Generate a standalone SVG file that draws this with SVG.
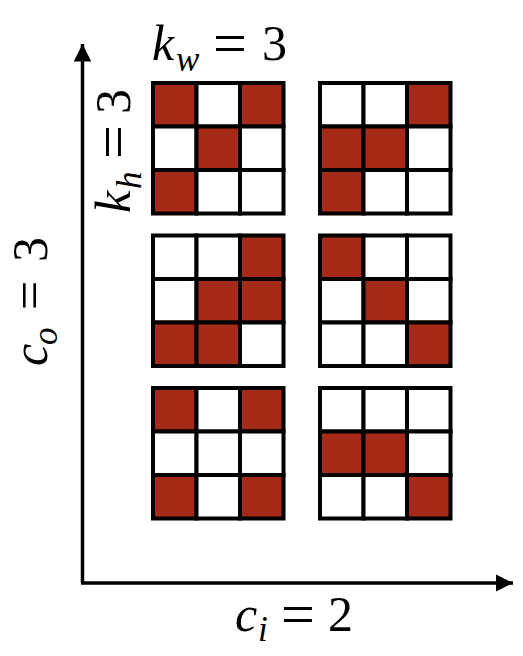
<svg xmlns="http://www.w3.org/2000/svg" width="523" height="656" viewBox="0 0 523 656">
<style>
.c{stroke:#000;stroke-width:4}
.r{fill:#a52a18}
.w{fill:#fff}
.ax{stroke:#000;stroke-width:3.5;fill:none}
text{fill:#000;font-family:'Liberation Serif','DejaVu Serif',serif;font-size:50px}
.it{font-style:italic}
.sub{font-style:italic;font-size:35px}
.eq{font-size:60px}
</style>
<defs>
<marker id="ah" viewBox="0 0 10 10" refX="10" refY="5" markerWidth="5" markerHeight="5" markerUnits="strokeWidth" orient="auto">
<path d="M0,0 L10,5 L0,10 z" fill="#000"/>
</marker>
</defs>
<rect width="523" height="656" fill="#fff"/>
<g id="connectors">
<line class="ax" x1="82.5" y1="583" x2="82.5" y2="44" marker-end="url(#ah)"/>
<line class="ax" x1="81" y1="583" x2="513" y2="583" marker-end="url(#ah)"/>
</g>
<g id="grid-1-1" class="c">
<rect class="r" x="153" y="83" width="43.5" height="43.5"/><rect class="w" x="196.5" y="83" width="43.5" height="43.5"/><rect class="r" x="240" y="83" width="43.5" height="43.5"/>
<rect class="w" x="153" y="126.5" width="43.5" height="43.5"/><rect class="r" x="196.5" y="126.5" width="43.5" height="43.5"/><rect class="w" x="240" y="126.5" width="43.5" height="43.5"/>
<rect class="r" x="153" y="170" width="43.5" height="43.5"/><rect class="w" x="196.5" y="170" width="43.5" height="43.5"/><rect class="w" x="240" y="170" width="43.5" height="43.5"/>
</g>
<g id="grid-1-2" class="c">
<rect class="w" x="320" y="83" width="43.5" height="43.5"/><rect class="w" x="363.5" y="83" width="43.5" height="43.5"/><rect class="r" x="407" y="83" width="43.5" height="43.5"/>
<rect class="r" x="320" y="126.5" width="43.5" height="43.5"/><rect class="r" x="363.5" y="126.5" width="43.5" height="43.5"/><rect class="w" x="407" y="126.5" width="43.5" height="43.5"/>
<rect class="r" x="320" y="170" width="43.5" height="43.5"/><rect class="w" x="363.5" y="170" width="43.5" height="43.5"/><rect class="w" x="407" y="170" width="43.5" height="43.5"/>
</g>
<g id="grid-2-1" class="c">
<rect class="w" x="153" y="235.5" width="43.5" height="43.5"/><rect class="w" x="196.5" y="235.5" width="43.5" height="43.5"/><rect class="r" x="240" y="235.5" width="43.5" height="43.5"/>
<rect class="w" x="153" y="279" width="43.5" height="43.5"/><rect class="r" x="196.5" y="279" width="43.5" height="43.5"/><rect class="r" x="240" y="279" width="43.5" height="43.5"/>
<rect class="r" x="153" y="322.5" width="43.5" height="43.5"/><rect class="r" x="196.5" y="322.5" width="43.5" height="43.5"/><rect class="w" x="240" y="322.5" width="43.5" height="43.5"/>
</g>
<g id="grid-2-2" class="c">
<rect class="r" x="320" y="235.5" width="43.5" height="43.5"/><rect class="w" x="363.5" y="235.5" width="43.5" height="43.5"/><rect class="w" x="407" y="235.5" width="43.5" height="43.5"/>
<rect class="w" x="320" y="279" width="43.5" height="43.5"/><rect class="r" x="363.5" y="279" width="43.5" height="43.5"/><rect class="w" x="407" y="279" width="43.5" height="43.5"/>
<rect class="w" x="320" y="322.5" width="43.5" height="43.5"/><rect class="w" x="363.5" y="322.5" width="43.5" height="43.5"/><rect class="r" x="407" y="322.5" width="43.5" height="43.5"/>
</g>
<g id="grid-3-1" class="c">
<rect class="r" x="153" y="388" width="43.5" height="43.5"/><rect class="w" x="196.5" y="388" width="43.5" height="43.5"/><rect class="r" x="240" y="388" width="43.5" height="43.5"/>
<rect class="w" x="153" y="431.5" width="43.5" height="43.5"/><rect class="w" x="196.5" y="431.5" width="43.5" height="43.5"/><rect class="w" x="240" y="431.5" width="43.5" height="43.5"/>
<rect class="r" x="153" y="475" width="43.5" height="43.5"/><rect class="w" x="196.5" y="475" width="43.5" height="43.5"/><rect class="r" x="240" y="475" width="43.5" height="43.5"/>
</g>
<g id="grid-3-2" class="c">
<rect class="w" x="320" y="388" width="43.5" height="43.5"/><rect class="w" x="363.5" y="388" width="43.5" height="43.5"/><rect class="w" x="407" y="388" width="43.5" height="43.5"/>
<rect class="r" x="320" y="431.5" width="43.5" height="43.5"/><rect class="r" x="363.5" y="431.5" width="43.5" height="43.5"/><rect class="w" x="407" y="431.5" width="43.5" height="43.5"/>
<rect class="w" x="320" y="475" width="43.5" height="43.5"/><rect class="w" x="363.5" y="475" width="43.5" height="43.5"/><rect class="r" x="407" y="475" width="43.5" height="43.5"/>
</g>
<g id="label-kw">
<text y="60"><tspan class="it" x="152">k</tspan><tspan class="sub" x="176" dy="11">w</tspan><tspan class="eq" x="213" dy="-8">=</tspan><tspan x="262" dy="-3">3</tspan></text>
</g>
<g id="label-kh">
<text transform="translate(130,213) rotate(-90)"><tspan class="it" x="0">k</tspan><tspan class="sub" x="24" dy="11">h</tspan><tspan class="eq" x="54" dy="-8">=</tspan><tspan x="99" dy="-3">3</tspan></text>
</g>
<g id="label-co">
<text transform="translate(47,366) rotate(-90)"><tspan class="it" x="0">c</tspan><tspan class="sub" x="21" dy="10">o</tspan><tspan x="56" dy="-10" font-size="52">=</tspan><tspan x="104">3</tspan></text>
</g>
<g id="label-ci">
<text y="631"><tspan class="it" x="235">c</tspan><tspan class="sub" x="258" dy="10">i</tspan><tspan class="eq" x="281" dy="-7">=</tspan><tspan x="328" dy="-3">2</tspan></text>
</g>
</svg>
